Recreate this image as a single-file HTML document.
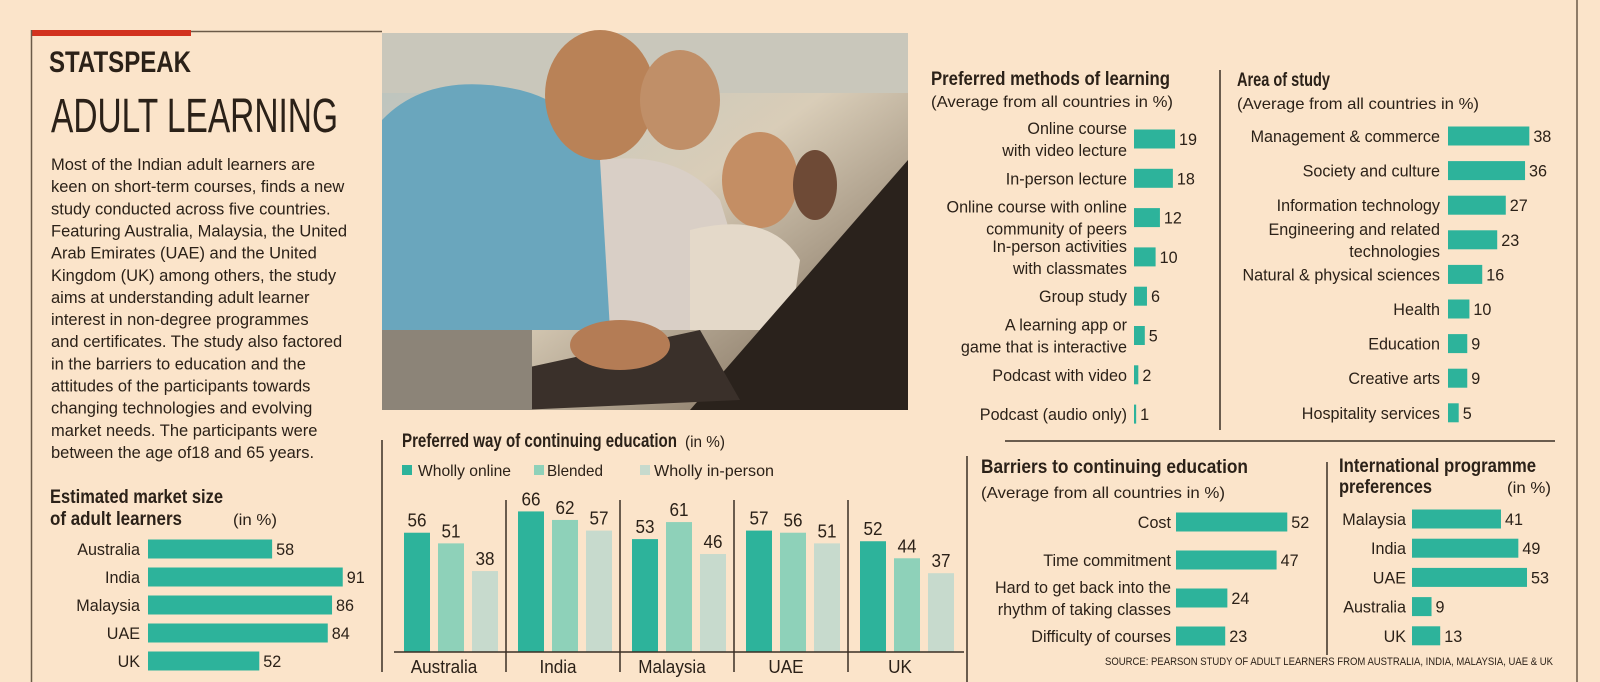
<!DOCTYPE html>
<html><head><meta charset="utf-8">
<style>
html,body{margin:0;padding:0;background:#fbe4ca;}
svg{display:block;font-family:"Liberation Sans",sans-serif;}
.t{fill:#2b2118;}
</style></head>
<body>
<svg id="s" width="1600" height="682" viewBox="0 0 1600 682" xmlns="http://www.w3.org/2000/svg">
<defs>
<linearGradient id="pg" x1="0" y1="0" x2="1" y2="1">
<stop offset="0" stop-color="#b9c3bf"/><stop offset="0.5" stop-color="#d9cdb8"/><stop offset="1" stop-color="#6b5a48"/></linearGradient>
</defs>
<rect x="0" y="0" width="1600" height="682" fill="#fbe4ca"/>
<rect x="31" y="30" width="160" height="6" fill="#d2321e"/>
<line x1="191" y1="31.5" x2="382" y2="31.5" stroke="#6b5a48" stroke-width="1.5"/>
<line x1="31.5" y1="30" x2="31.5" y2="682" stroke="#6b5a48" stroke-width="1.5"/>
<line x1="1577" y1="0" x2="1577" y2="682" stroke="#6b5a48" stroke-width="1.5"/>

<text class="t" x="49" y="72" font-size="30" font-weight="bold" textLength="142" lengthAdjust="spacingAndGlyphs">STATSPEAK</text>
<text class="t" x="51" y="132" font-size="48" textLength="287" lengthAdjust="spacingAndGlyphs">ADULT LEARNING</text>

<g id="para" font-size="17" class="t"></g>

<g>
<rect x="382" y="33" width="526" height="377" fill="url(#pg)"/>
<rect x="382" y="33" width="526" height="60" fill="#c9c7bb"/>
<path d="M382 120 Q430 70 520 90 Q600 110 610 200 L620 330 L382 330 Z" fill="#6aa6bd"/>
<ellipse cx="600" cy="95" rx="55" ry="65" fill="#b98257"/>
<ellipse cx="680" cy="100" rx="40" ry="50" fill="#c08f68"/>
<path d="M600 160 Q680 150 720 200 L760 330 L610 330 Z" fill="#d9cfc6"/>
<ellipse cx="760" cy="180" rx="38" ry="48" fill="#c48e64"/>
<path d="M690 230 Q770 210 800 260 L790 330 L690 330 Z" fill="#e4d9c9"/>
<ellipse cx="815" cy="185" rx="22" ry="35" fill="#6e4a36"/>
<path d="M690 410 L908 160 L908 410 Z" fill="#2a221c"/>
<path d="M470 380 L700 330 L740 400 L520 410 Z" fill="#3a302a"/>
<ellipse cx="620" cy="345" rx="50" ry="25" fill="#b47c55"/>
<rect x="382" y="330" width="150" height="80" fill="#8c8478"/>
</g>

<line x1="382" y1="440" x2="382" y2="672" stroke="#3a2e24" stroke-width="1.5"/>
<text class="t" x="402" y="447" font-size="19" font-weight="bold" textLength="275" lengthAdjust="spacingAndGlyphs">Preferred way of continuing education</text>
<text class="t" x="685" y="447" font-size="16" textLength="40" lengthAdjust="spacingAndGlyphs">(in %)</text>
<g>
<rect x="402" y="465" width="10" height="10" fill="#2db39b"/>
<text class="t" x="418" y="476" font-size="16" textLength="93" lengthAdjust="spacingAndGlyphs">Wholly online</text>
<rect x="534" y="465" width="10" height="10" fill="#8ed1b9"/>
<text class="t" x="547" y="476" font-size="16" textLength="56" lengthAdjust="spacingAndGlyphs">Blended</text>
<rect x="640" y="465" width="10" height="10" fill="#c7dacd"/>
<text class="t" x="654" y="476" font-size="16" textLength="120" lengthAdjust="spacingAndGlyphs">Wholly in-person</text>
</g>
<g id="grouped"></g>

<text class="t" x="50" y="503" font-size="19" font-weight="bold" textLength="173" lengthAdjust="spacingAndGlyphs">Estimated market size</text>
<text class="t" x="50" y="525" font-size="19" font-weight="bold" textLength="132" lengthAdjust="spacingAndGlyphs">of adult learners</text>
<text class="t" x="233" y="525" font-size="16" textLength="44" lengthAdjust="spacingAndGlyphs">(in %)</text>
<g id="market"></g>

<text class="t" x="931" y="85" font-size="19" font-weight="bold" textLength="239" lengthAdjust="spacingAndGlyphs">Preferred methods of learning</text>
<text class="t" x="931" y="107" font-size="16" textLength="242" lengthAdjust="spacingAndGlyphs">(Average from all countries in %)</text>
<g id="methods"></g>
<line x1="1220" y1="70" x2="1220" y2="430" stroke="#3a2e24" stroke-width="1.5"/>

<text class="t" x="1237" y="86" font-size="19" font-weight="bold" textLength="93" lengthAdjust="spacingAndGlyphs">Area of study</text>
<text class="t" x="1237" y="109" font-size="16" textLength="242" lengthAdjust="spacingAndGlyphs">(Average from all countries in %)</text>
<g id="area"></g>

<line x1="1005" y1="441" x2="1555" y2="441" stroke="#3a2e24" stroke-width="1.5"/>
<line x1="967" y1="456" x2="967" y2="682" stroke="#3a2e24" stroke-width="1.5"/>

<text class="t" x="981" y="473" font-size="19" font-weight="bold" textLength="267" lengthAdjust="spacingAndGlyphs">Barriers to continuing education</text>
<text class="t" x="981" y="498" font-size="16" textLength="244" lengthAdjust="spacingAndGlyphs">(Average from all countries in %)</text>
<g id="barriers"></g>
<line x1="1327" y1="462" x2="1327" y2="655" stroke="#3a2e24" stroke-width="1.5"/>

<text class="t" x="1339" y="472" font-size="19" font-weight="bold" textLength="197" lengthAdjust="spacingAndGlyphs">International programme</text>
<text class="t" x="1339" y="493" font-size="19" font-weight="bold" textLength="93" lengthAdjust="spacingAndGlyphs">preferences</text>
<text class="t" x="1551" y="493" font-size="16" text-anchor="end" textLength="44" lengthAdjust="spacingAndGlyphs">(in %)</text>
<g id="intl"></g>

<text class="t" x="1553" y="665" font-size="11" text-anchor="end" textLength="448" lengthAdjust="spacingAndGlyphs">SOURCE: PEARSON STUDY OF ADULT LEARNERS FROM AUSTRALIA, INDIA, MALAYSIA, UAE &amp; UK</text>
</svg>

<script>
const paraLines = ["Most of the Indian adult learners are","keen on short-term courses, finds a new","study conducted across five countries.","Featuring Australia, Malaysia, the United","Arab Emirates (UAE) and the United","Kingdom (UK) among others, the study","aims at understanding adult learner","interest in non-degree programmes","and certificates. The study also factored","in the barriers to education and the","attitudes of the participants towards","changing technologies and evolving","market needs. The participants were","between the age of18 and 65 years."];

const marketCats = ["Australia","India","Malaysia","UAE","UK"];
const marketVals = [58,91,86,84,52];
const methodCats = ["Online course|with video lecture","In-person lecture","Online course with online|community of peers","In-person activities|with classmates","Group study","A learning app or|game that is interactive","Podcast with video","Podcast (audio only)"];
const methodVals = [19,18,12,10,6,5,2,1];
const areaCats = ["Management & commerce","Society and culture","Information technology","Engineering and related|technologies","Natural & physical sciences","Health","Education","Creative arts","Hospitality services"];
const areaVals = [38,36,27,23,16,10,9,9,5];
const barrierCats = ["Cost","Time commitment","Hard to get back into the|rhythm of taking classes","Difficulty of courses"];
const barrierVals = [52,47,24,23];
const intlCats = ["Malaysia","India","UAE","Australia","UK"];
const intlVals = [41,49,53,9,13];
const groupCats = ["Australia","India","Malaysia","UAE","UK"];
const onlineVals = [56,66,53,57,52];
const blendedVals = [51,62,61,56,44];
const inpersonVals = [38,57,46,51,37];

const NS = "http://www.w3.org/2000/svg";
const TEAL = "#2db39b";
function mk(tag, attrs, parent){
  const e = document.createElementNS(NS, tag);
  for (const k in attrs) e.setAttribute(k, attrs[k]);
  parent.appendChild(e);
  return e;
}

const para = document.getElementById('para');
paraLines.forEach((ln, i) => {
  const t = mk('text', {x: 51, y: 170 + i * 22.15, 'font-size': 17, class: 't cp'}, para);
  
  
  t.textContent = ln;
});

function hbar(id, cats, vals, x0, scale, y0, step, barH, labelEnd, key){
  const g = document.getElementById(id);
  const xs = v => x0 + v * scale;
  cats.forEach((c, i) => {
    const yc = y0 + i * step;
    const r = mk('rect', {x: x0, y: yc - barH / 2, width: xs(vals[i]) - x0, height: barH, fill: TEAL}, g);
    
    
    const lines = c.split('|');
    lines.forEach((ln, j) => {
      const yy = lines.length === 1 ? yc + 6 : yc - 5 + j * 22;
      const t = mk('text', {x: labelEnd, y: yy, 'font-size': 17, 'text-anchor': 'end', class: 't cn'}, g);
      
      
      t.textContent = ln;
    });
    const v = mk('text', {x: xs(vals[i]) + 4, y: yc + 6, 'font-size': 17, class: 't cn'}, g);
    
    
    v.textContent = vals[i];
  });
}
hbar('market', marketCats, marketVals, 148, 2.14, 549, 28, 19, 140, 'market');
hbar('methods', methodCats, methodVals, 1134, 2.16, 139, 39.3, 19, 1127, 'method');
hbar('area', areaCats, areaVals, 1448, 2.14, 136, 34.6, 19, 1440, 'area');
hbar('barriers', barrierCats, barrierVals, 1176, 2.14, 522, 38, 19, 1171, 'barrier');
hbar('intl', intlCats, intlVals, 1412, 2.17, 519, 29.2, 19, 1406, 'intl');

const gg = document.getElementById('grouped');
const BASE = 652, YS = 2.13;
const yv = v => BASE - v * YS;
const series = [onlineVals, blendedVals, inpersonVals];
const colors = ["#2db39b", "#8ed1b9", "#c7dacd"];
const snames = ["online", "blended", "inperson"];
const gx = i => 404 + i * 114;
groupCats.forEach((c, i) => {
  series.forEach((vals, s) => {
    const x = gx(i) + s * 34;
    const r = mk('rect', {x: x, y: yv(vals[i]), width: 26, height: BASE - yv(vals[i]), fill: colors[s]}, gg);
    
    
    const t = mk('text', {x: x + 13, y: yv(vals[i]) - 6, 'font-size': 18, 'text-anchor': 'middle', class: 't cn'}, gg);
    
    
    t.textContent = vals[i];
  });
  const l = mk('text', {x: gx(i) + 40, y: 673, 'font-size': 18, 'text-anchor': 'middle', class: 't cn'}, gg);
  
  
  l.textContent = c;
  if (i > 0) {
    const sl = mk('line', {x1: gx(i) - 12, x2: gx(i) - 12, y1: 500, y2: 672, stroke: '#3a2e24', 'stroke-width': 1.5}, gg);
    
    
  }
});
const bl = mk('line', {x1: 394, x2: gx(groupCats.length) - 10, y1: BASE, y2: BASE, stroke: '#3a2e24', 'stroke-width': 1.5}, gg);



function condense(sel, f){
  document.querySelectorAll(sel).forEach(t => {
    const w = t.getComputedTextLength();
    if (w > 0) {
      t.setAttribute('textLength', (w * f).toFixed(1));
      t.setAttribute('lengthAdjust', 'spacingAndGlyphs');
    }
  });
}
condense('text.cn', 0.95);
condense('text.cp', 0.97);
</script>
</body></html>
